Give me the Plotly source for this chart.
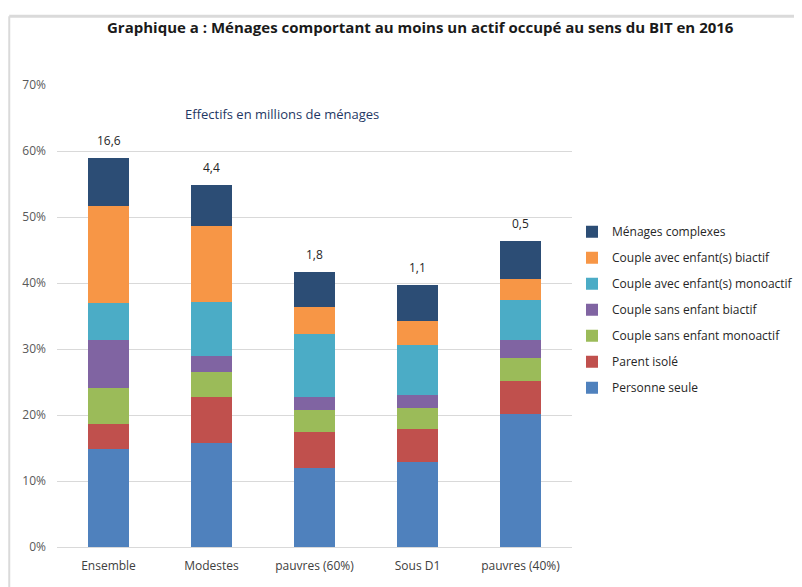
import plotly.graph_objects as go

categories = ['Ensemble', 'Modestes', 'pauvres (60%)', 'Sous D1', 'pauvres (40%)']

personne_seule = [14.8, 15.7, 11.9, 12.9, 20.2]
parent_isole = [3.9, 7.0, 5.6, 5.0, 5.0]
sans_enfant_mono = [5.4, 3.8, 3.3, 3.2, 3.5]
sans_enfant_bi = [7.3, 2.4, 2.0, 2.0, 2.7]
avec_enfant_mono = [5.5, 8.2, 9.4, 7.5, 6.0]
avec_enfant_bi = [14.7, 11.6, 4.1, 3.7, 3.2]
menages_complexes = [7.3, 6.2, 5.4, 5.4, 5.8]

effectifs = ['16,6', '4,4', '1,8', '1,1', '0,5']

series = [
    ('Personne seule', personne_seule, '#4F81BD'),
    ('Parent isolé', parent_isole, '#C0504D'),
    ('Couple sans enfant monoactif', sans_enfant_mono, '#9BBB59'),
    ('Couple sans enfant biactif', sans_enfant_bi, '#8064A2'),
    ('Couple avec enfant(s) monoactif', avec_enfant_mono, '#4BACC6'),
    ('Couple avec enfant(s) biactif', avec_enfant_bi, '#F79646'),
    ('Ménages complexes', menages_complexes, '#2C4D75'),
]

font = 'Open Sans, Noto Sans, sans-serif'

fig = go.Figure()
for i, (name, vals, color) in enumerate(series):
    fig.add_trace(go.Bar(
        x=categories, y=vals, name=name, legendgroup=name,
        legendrank=len(series) - i,  # top of the stack first in the legend
        marker=dict(color=color, line=dict(width=0))
    ))

# effectifs written above each stacked bar
totals = [sum(v[i] for _, v, _ in series) for i in range(len(categories))]
labels = [dict(x=c, y=t, text=e, showarrow=False, yanchor='bottom', yshift=7,
               font=dict(size=12, color='#262626', family=font))
          for c, t, e in zip(categories, totals, effectifs)]

labels.append(dict(text='Effectifs en millions de ménages', xref='paper', yref='paper',
                   x=0.436, y=0.937, yanchor='middle', showarrow=False,
                   font=dict(size=13, color='#1F3864', family=font)))

fig.update_layout(
    barmode='stack',
    bargap=0.61,
    width=802, height=587,
    margin=dict(l=49, r=232, t=77, b=48),
    paper_bgcolor='white', plot_bgcolor='white',
    font=dict(family=font, size=12, color='#404040'),
    title=dict(text='<b>Graphique a : Ménages comportant au moins un actif occupé au sens du BIT en 2016</b>',
               xref='container', x=0.514, xanchor='center', y=0.966, yanchor='middle',
               font=dict(size=15, color='#1a1a1a', family=font)),
    legend=dict(traceorder='grouped', x=1.0, xanchor='left', y=0.714, yanchor='top',
                font=dict(size=12, color='#262626'), itemwidth=30, tracegroupgap=7,
                bgcolor='rgba(0,0,0,0)'),
    yaxis=dict(range=[0, 70], dtick=10, ticksuffix='%', showgrid=True,
               gridcolor='#D9D9D9', gridwidth=1, zeroline=False,
               tickfont=dict(size=12, color='#595959'), ticks='', ticklabelstandoff=10),
    xaxis=dict(showline=True, linecolor='#D9D9D9', ticklabelstandoff=8,
               tickfont=dict(size=12, color='#404040')),
    annotations=labels,
    shapes=[
        dict(type='line', xref='paper', yref='paper', x0=-0.0927, x1=-0.0927, y0=-0.2, y1=1.149,
             line=dict(color='#DADADA', width=2)),
        dict(type='line', xref='paper', yref='paper', x0=-0.0927, x1=1.46, y0=1.149, y1=1.149,
             line=dict(color='#DADADA', width=3)),
    ],
)

fig.write_html('out.html')
